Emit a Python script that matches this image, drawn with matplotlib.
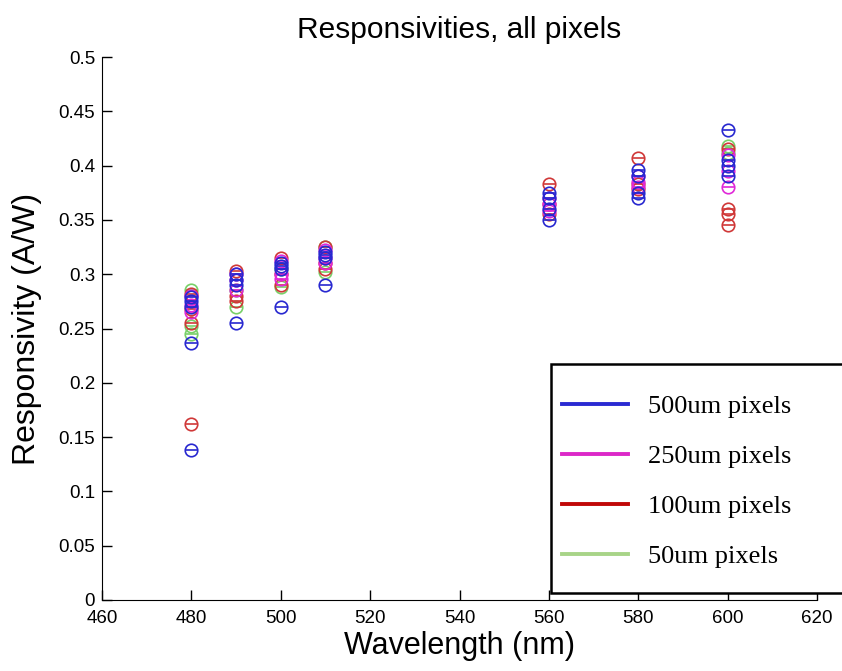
import matplotlib
matplotlib.use('Agg')
import matplotlib.pyplot as plt
from matplotlib.lines import Line2D
from matplotlib.patches import Rectangle

# Wavelengths (nm) and responsivities (A/W), per pixel size
wavelengths = [480, 490, 500, 510, 560, 580, 600]

resp_500um = [
    [0.237, 0.138, 0.270, 0.275, 0.279],
    [0.255, 0.290, 0.295, 0.300],
    [0.270, 0.305, 0.310, 0.308],
    [0.290, 0.315, 0.320, 0.318],
    [0.350, 0.360, 0.370, 0.375],
    [0.370, 0.375, 0.390, 0.396],
    [0.433, 0.390, 0.400, 0.405],
]
resp_250um = [
    [0.272, 0.280, 0.265],
    [0.300, 0.285, 0.295],
    [0.300, 0.312, 0.296],
    [0.322, 0.310, 0.315],
    [0.365, 0.370, 0.358],
    [0.380, 0.385, 0.390],
    [0.380, 0.395, 0.410],
]
resp_100um = [
    [0.162, 0.268, 0.282, 0.255],
    [0.303, 0.280, 0.275],
    [0.315, 0.290, 0.300],
    [0.325, 0.305, 0.310],
    [0.383, 0.355, 0.365],
    [0.407, 0.378, 0.383],
    [0.345, 0.355, 0.360, 0.415],
]
resp_50um = [
    [0.285, 0.245, 0.252],
    [0.270, 0.285],
    [0.288, 0.305],
    [0.302, 0.325],
    [],
    [],
    [0.418, 0.412],
]

labels = ['500um pixels', '250um pixels', '100um pixels', '50um pixels']
marker_colors = ['#2828d0', '#e028d8', '#d03838', '#78d068']
legend_colors = ['#2a2ad2', '#dc28c8', '#c00808', '#a8d488']
series = [resp_500um, resp_250um, resp_100um, resp_50um]

plt.rcParams['font.family'] = ['Liberation Sans', 'DejaVu Sans']

fig = plt.figure(figsize=(8.42, 6.71), dpi=100)
ax = fig.add_axes([102 / 842, 71 / 671, 715 / 842, 543 / 671])

# draw smallest pixels first so the blue sits on top, like the original
for data, col in reversed(list(zip(series, marker_colors))):
    xs, ys = [], []
    for wl, vals in zip(wavelengths, data):
        xs += [wl] * len(vals)
        ys += vals
    ax.plot(xs, ys, 'o', ms=9, mfc='none', mec=col, mew=1.2)
    ax.plot(xs, ys, '_', ms=9, mec=col, mew=1.2)

ax.set_xlim(460, 620)
ax.set_ylim(0, 0.5)
ax.set_xticks(range(460, 621, 20))
ax.set_yticks([0, 0.05, 0.1, 0.15, 0.2, 0.25, 0.3, 0.35, 0.4, 0.45, 0.5])
ax.set_yticklabels(['0', '0.05', '0.1', '0.15', '0.2', '0.25', '0.3', '0.35',
                    '0.4', '0.45', '0.5'])
ax.tick_params(direction='in', length=7, width=1, labelsize=13.5)
ax.tick_params(axis='x', pad=7)
ax.tick_params(axis='y', pad=5)
ax.spines['top'].set_visible(False)
ax.spines['right'].set_visible(False)
ax.set_xlabel('Wavelength (nm)', fontsize=22, labelpad=3)
ax.set_ylabel('Responsivity (A/W)', fontsize=23, labelpad=12)
ax.set_title('Responsivities, all pixels', fontsize=21.5, pad=14)

# legend box (cut by the right edge in the original)
fig.patches.append(Rectangle((551 / 842, 78 / 671), 0.4, 229 / 671,
                             transform=fig.transFigure, fc='white', ec='black',
                             lw=1.8, zorder=3))
handles = [Line2D([], [], color=c, lw=2.8) for c in legend_colors]
fig.legend(handles, labels, loc='upper left', bbox_to_anchor=(562 / 842, 276 / 671),
           frameon=False, borderpad=0, borderaxespad=0, labelspacing=1.0,
           handlelength=2.5, handletextpad=0.75,
           prop={'family': 'Liberation Serif', 'size': 19})

fig.savefig('out.png', dpi=100)
